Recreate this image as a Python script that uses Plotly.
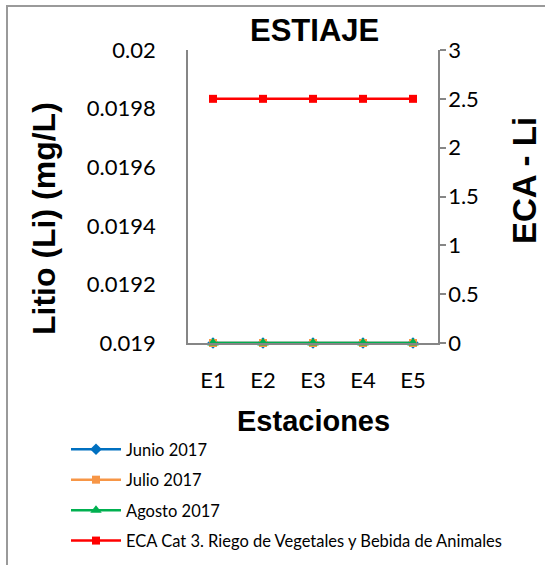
import plotly.graph_objects as go

# Estaciones de muestreo y concentraciones de litio (mg/L)
estaciones = ["E1", "E2", "E3", "E4", "E5"]
junio_2017 = [0.019, 0.019, 0.019, 0.019, 0.019]
julio_2017 = [0.019, 0.019, 0.019, 0.019, 0.019]
agosto_2017 = [0.019, 0.019, 0.019, 0.019, 0.019]
eca_cat3 = [2.5, 2.5, 2.5, 2.5, 2.5]

# Ejes
y1_ticks = [0.019, 0.0192, 0.0194, 0.0196, 0.0198, 0.02]
y1_labels = ["0.019", "0.0192", "0.0194", "0.0196", "0.0198", "0.02"]
y2_ticks = [0, 0.5, 1, 1.5, 2, 2.5, 3]
y2_labels = ["0", "0.5", "1", "1.5", "2", "2.5", "3"]

W, H = 545, 565
L, R, T, B = 188, 438, 50, 343  # plot area in pixels


def px(x):
    return (x - L) / (R - L)


def py(y):
    return (B - y) / (B - T)


AXIS = "#868686"
TICK_FONT = dict(family="Lato, Open Sans, sans-serif", size=22, color="#000000")


def title_font(size):
    return dict(family="Liberation Sans, Arial, sans-serif", size=size, color="#000000")


fig = go.Figure()

series = [
    ("Junio 2017", junio_2017, "#0070C0", "diamond", 9),
    ("Julio 2017", julio_2017, "#F79646", "square", 8),
    ("Agosto 2017", agosto_2017, "#00B050", "triangle-up", 10),
]
for name, vals, color, symbol, size in series:
    fig.add_trace(go.Scatter(
        x=estaciones, y=vals, name=name, mode="lines+markers",
        line=dict(color=color, width=2.5),
        marker=dict(color=color, symbol=symbol, size=size),
        legendgroup=name, cliponaxis=False,
    ))

fig.add_trace(go.Scatter(
    x=estaciones, y=eca_cat3, name="ECA Cat 3. Riego de Vegetales y Bebida de Animales",
    mode="lines+markers", yaxis="y2",
    line=dict(color="#FF0000", width=2.5),
    marker=dict(color="#FF0000", symbol="square", size=8),
    legendgroup="eca", cliponaxis=False,
))

fig.update_layout(
    width=W, height=H,
    margin=dict(l=L, r=W - R, t=T, b=H - B, autoexpand=False),
    paper_bgcolor="white", plot_bgcolor="white",
    showlegend=True,
    legend=dict(
        x=px(66), y=py(432), xanchor="left", yanchor="top",
        font=dict(family="Lato, Open Sans, sans-serif", size=16.5, color="#000000"),
        tracegroupgap=6, itemwidth=50, bgcolor="rgba(0,0,0,0)",
    ),
    xaxis=dict(
        type="category", range=[-0.5, 4.5], showgrid=False, zeroline=False,
        showline=True, linecolor=AXIS, linewidth=1.5, ticks="",
        tickfont=TICK_FONT, ticklabelstandoff=17,
    ),
    yaxis=dict(
        range=[0.019, 0.02], tickvals=y1_ticks, ticktext=y1_labels,
        showgrid=False, zeroline=False, showline=True, linecolor=AXIS, linewidth=1.5,
        ticks="", tickfont=TICK_FONT, ticklabelstandoff=26,
    ),
    yaxis2=dict(
        range=[0, 3], tickvals=y2_ticks, ticktext=y2_labels, overlaying="y", side="right",
        showgrid=False, zeroline=False, showline=True, linecolor=AXIS, linewidth=1.5,
        ticks="outside", ticklen=6, tickcolor=AXIS, tickwidth=1.5, tickfont=TICK_FONT,
        ticklabelstandoff=-2,
    ),
    shapes=[dict(
        type="rect", xref="paper", yref="paper",
        x0=px(7), x1=px(620), y0=py(640), y1=py(6),
        line=dict(color="#9a9a9a", width=2), layer="below",
    )],
    annotations=[
        dict(text="<b>ESTIAJE</b>", x=px(314), y=py(30), xref="paper", yref="paper",
             xanchor="center", yanchor="middle", showarrow=False, font=title_font(31)),
        dict(text="<b>Estaciones</b>", x=px(313), y=py(421), xref="paper", yref="paper",
             xanchor="center", yanchor="middle", showarrow=False, font=title_font(29)),
        dict(text="<b>Litio (Li) (mg/L)</b>", x=px(44), y=py(219), xref="paper", yref="paper",
             xanchor="center", yanchor="middle", showarrow=False, textangle=-90,
             font=title_font(32)),
        dict(text="<b>ECA - Li</b>", x=px(524), y=py(181), xref="paper", yref="paper",
             xanchor="center", yanchor="middle", showarrow=False, textangle=-90,
             font=title_font(33)),
    ],
)

fig.write_html("out.html")
